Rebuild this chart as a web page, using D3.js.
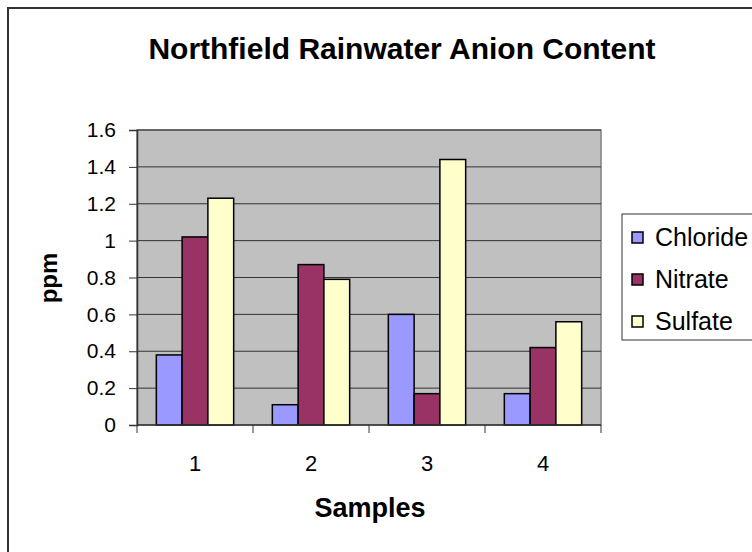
<!DOCTYPE html>
<html>
<head>
<meta charset="utf-8">
<script src="https://cdn.jsdelivr.net/npm/d3@7"></script>
<style>
  body { margin: 0; background: #fff; }
  text { font-family: Arial, "Liberation Sans", sans-serif; fill: #000; }
</style>
</head>
<body>
<div id="chart"></div>
<script>
// data
let samples = ["1", "2", "3", "4"]
let anions = ["Chloride", "Nitrate", "Sulfate"]
let chloride = [0.38, 0.11, 0.60, 0.17]
let nitrate = [1.02, 0.87, 0.17, 0.42]
let sulfate = [1.23, 0.79, 1.44, 0.56]
let yTicks = [0, 0.2, 0.4, 0.6, 0.8, 1, 1.2, 1.4, 1.6]
let colors = ["#9999FF", "#993366", "#FFFFCC"]

let width = 752, height = 552
let plot = {left: 137, top: 130, right: 601, bottom: 425}

let svg = d3.select("#chart")
    .append("svg")
        .attr("width", width)
        .attr("height", height)

//outer chart border (runs off the right and bottom edge)
svg.append("rect")
    .attr("x", 8).attr("y", 8)
    .attr("width", 760).attr("height", 560)
    .attr("fill", "#fff")
    .attr("stroke", "#333")
    .attr("stroke-width", 2)

let x0 = d3.scaleBand()
    .domain(samples)
    .range([plot.left, plot.right])

// gap width 150% like excel: 3 bars + 1.5 bar of gap
let x1 = d3.scaleBand()
    .domain(anions)
    .range([0, x0.bandwidth()])
    .paddingOuter(0.75)
    .paddingInner(0)

let y = d3.scaleLinear()
    .domain([0, 1.6])
    .range([plot.bottom, plot.top])

let color = d3.scaleOrdinal().domain(anions).range(colors)

//plot area
svg.append("rect")
    .attr("x", plot.left).attr("y", plot.top)
    .attr("width", plot.right - plot.left)
    .attr("height", plot.bottom - plot.top)
    .attr("fill", "#C0C0C0")
    .attr("stroke", "#808080")
    .attr("stroke-width", 1.5)

//gridlines
svg.append("g")
    .selectAll("line")
    .data(yTicks.slice(1))
    .enter()
    .append("line")
        .attr("x1", plot.left).attr("x2", plot.right)
        .attr("y1", d => y(d)).attr("y2", d => y(d))
        .attr("stroke", "#333")
        .attr("stroke-width", 1)

//bars
let rows = samples.map((s, i) => ({sample: s, values: [chloride[i], nitrate[i], sulfate[i]]}))

svg.append("g")
    .selectAll("g")
    .data(rows)
    .enter()
    .append("g")
        .attr("transform", d => `translate(${x0(d.sample)}, 0)`)
    .selectAll("rect")
    .data(d => d.values.map((v, j) => ({key: anions[j], value: v})))
    .enter()
    .append("rect")
        .attr("x", d => x1(d.key))
        .attr("y", d => y(d.value))
        .attr("width", x1.bandwidth())
        .attr("height", d => y(0) - y(d.value))
        .attr("fill", d => color(d.key))
        .attr("stroke", "#000")
        .attr("stroke-width", 1.5)

//y axis
let yAxis = svg.append("g")
    .attr("transform", `translate(${plot.left}, 0)`)
    .call(d3.axisLeft(y).tickValues(yTicks).tickSize(8).tickPadding(13).tickFormat(d3.format("")))
yAxis.select(".domain").attr("stroke", "#333").attr("stroke-width", 1.5)
yAxis.selectAll(".tick line").attr("stroke", "#333")
yAxis.selectAll("text").style("font-size", "21px").attr("font-family", null)

//x axis, ticks sit between the groups
let xAxis = svg.append("g")
    .attr("transform", `translate(0, ${plot.bottom})`)
xAxis.append("line")
    .attr("x1", plot.left).attr("x2", plot.right)
    .attr("stroke", "#333").attr("stroke-width", 1.5)
xAxis.selectAll("line.tk")
    .data(samples.concat(["end"]))
    .enter()
    .append("line")
        .attr("class", "tk")
        .attr("x1", (d, i) => plot.left + i * x0.step())
        .attr("x2", (d, i) => plot.left + i * x0.step())
        .attr("y1", 0).attr("y2", 8)
        .attr("stroke", "#333")
xAxis.selectAll("text")
    .data(samples)
    .enter()
    .append("text")
        .attr("x", d => x0(d) + x0.bandwidth() / 2)
        .attr("y", 46)
        .style("text-anchor", "middle")
        .style("font-size", "22px")
        .text(d => d)

//titles
svg.append("text")
    .attr("x", 402).attr("y", 59)
    .style("text-anchor", "middle")
    .style("font-size", "30px")
    .style("font-weight", "bold")
    .text("Northfield Rainwater Anion Content")

svg.append("text")
    .attr("x", 370).attr("y", 517)
    .style("text-anchor", "middle")
    .style("font-size", "27px")
    .style("font-weight", "bold")
    .text("Samples")

svg.append("text")
    .attr("transform", "translate(57, 278) rotate(-90)")
    .style("text-anchor", "middle")
    .style("font-size", "24px")
    .style("font-weight", "bold")
    .text("ppm")

//legend
let leg = svg.append("g").attr("class", "legend")
leg.append("rect")
    .attr("x", 622).attr("y", 214)
    .attr("width", 160).attr("height", 126)
    .attr("fill", "#fff")
    .attr("stroke", "#333")
    .attr("stroke-width", 1)

let items = leg.selectAll("g")
    .data(anions)
    .enter()
    .append("g")
        .attr("transform", (d, i) => `translate(632, ${237 + i * 42})`)
items.append("rect")
    .attr("x", 0).attr("y", -5)
    .attr("width", 11).attr("height", 11)
    .attr("fill", d => color(d))
    .attr("stroke", "#000")
    .attr("stroke-width", 1.5)
items.append("text")
    .attr("x", 23).attr("y", 0)
    .attr("dy", "0.35em")
    .style("font-size", "25px")
    .text(d => d)
</script>
</body>
</html>
